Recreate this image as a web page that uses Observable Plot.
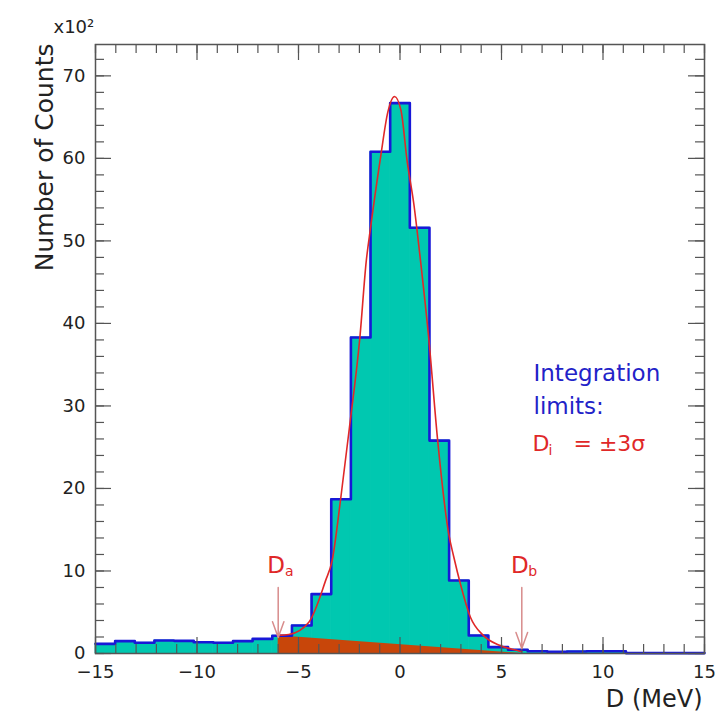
<!DOCTYPE html>
<html><head><meta charset="utf-8">
<script src="https://cdn.jsdelivr.net/npm/d3@7"></script>
<script src="https://cdn.jsdelivr.net/npm/@observablehq/plot@0.6"></script>
<style>body{margin:0;background:#fff}</style>
</head><body><div id="chart"></div>
<script>
// histogram binning: 31 bins over [-15, 15]
const binLo = -15, binHi = 15, nBins = 31;
// counts (x10^2) per bin, left to right
const counts = [1.17,1.5,1.3,1.57,1.53,1.37,1.3,1.5,1.77,2.15,3.4,7.2,18.7,38.3,60.8,66.7,51.6,25.8,8.84,2.18,0.77,0.45,0.28,0.2,0.25,0.27,0.27,0.05,0.05,0.05,0.05];
// fitted curve
const fitX = [-6,-5.48,-4.49,-3.67,-3.34,-2.93,-2.5,-1.98,-1.66,-1.45,-0.96,-0.6,-0.27,0.05,0.35,0.68,1.01,1.42,1.86,2.4,2.65,2.98,3.47,4.1,4.93,5.9,6.0];
const fitY = [2.2,2.3,3.8,8.8,11.3,18.6,27.2,38.2,47.6,51.6,60.1,65.6,67.5,65.8,59.7,54.5,47.6,38.1,25.7,14.5,11.7,8.4,4.4,2.2,0.97,0.28,0.2];
// background under the peak (linear)
const bgX = [-6, 6];
const bgY = [2.15, 0];
// integration limits
const limitX = [-6, 6];
const limitSub = ["a", "b"];
const arrowTopY = [8.0, 8.0];
const arrowTipY = [1.95, 0.6];
// axis ticks
const xTicks = [-15,-10,-5,0,5,10,15];
const yTicks = [0,10,20,30,40,50,60,70];

const W = 727, H = 713, mL = 95, mR = 23, mT = 44, mB = 60;
const fw = W - mL - mR, fh = H - mT - mB;
const edges = d3.range(nBins + 1).map(i => binLo + i * (binHi - binLo) / nBins);
const bins = counts.map((c, i) => ({x1: edges[i], x2: edges[i + 1], y: c}));
const outline = edges.map((e, i) => ({x: e, y: counts[Math.min(i, nBins - 1)]}));
const fit = fitX.map((x, i) => ({x, y: fitY[i]}));
const bg = bgX.map((x, i) => ({x, y: bgY[i]}));
const arrows = limitX.map((x, i) => ({x, y1: arrowTopY[i], y2: arrowTipY[i], sub: limitSub[i]}));
const xMinor = d3.range(-15, 16, 1);
const yMinor = d3.range(0, 74, 2);

const red = "#e02828", blue = "#2222c8", cyan = "#00c8b0";
const chart = Plot.plot({
  width: W, height: H,
  marginLeft: mL, marginRight: mR, marginTop: mT, marginBottom: mB,
  x: {domain: [-15, 15]},
  y: {domain: [0, 73.8]},
  style: {fontFamily: "DejaVu Sans, sans-serif", fontSize: "18px", color: "#222", background: "#fff"},
  marks: [
    Plot.rectY(bins, {x1: "x1", x2: "x2", y: "y", fill: cyan, stroke: cyan, strokeWidth: 0.8}),
    Plot.areaY(bg, {x: "x", y: "y", fill: "#c8460a"}),
    Plot.line(outline, {x: "x", y: "y", curve: "step-after", stroke: "#1818d8", strokeWidth: 2.6}),
    Plot.line(fit, {x: "x", y: "y", curve: "monotone-x", stroke: red, strokeWidth: 1.6}),
    // inward ticks
    Plot.tickX(xMinor, {x: d => d, insetTop: fh - 9, stroke: "#555", strokeWidth: 1.2}),
    Plot.tickX(xTicks, {x: d => d, insetTop: fh - 16, stroke: "#555", strokeWidth: 1.2}),
    Plot.tickX(xMinor, {x: d => d, insetBottom: fh - 9, stroke: "#555", strokeWidth: 1.2}),
    Plot.tickX(xTicks, {x: d => d, insetBottom: fh - 16, stroke: "#555", strokeWidth: 1.2}),
    Plot.tickY(yMinor, {y: d => d, insetRight: fw - 9, stroke: "#555", strokeWidth: 1.2}),
    Plot.tickY(yTicks, {y: d => d, insetRight: fw - 16, stroke: "#555", strokeWidth: 1.2}),
    Plot.tickY(yMinor, {y: d => d, insetLeft: fw - 9, stroke: "#555", strokeWidth: 1.2}),
    Plot.tickY(yTicks, {y: d => d, insetLeft: fw - 16, stroke: "#555", strokeWidth: 1.2}),
    Plot.frame({stroke: "#555", strokeWidth: 1.5}),
    Plot.axisX({ticks: xTicks, tickSize: 0, tickPadding: 12, label: null, fontSize: 18}),
    Plot.axisY({ticks: yTicks, tickSize: 0, tickPadding: 10, label: null, fontSize: 18}),
    // arrows and labels for integration limits
    Plot.arrow(arrows, {x1: "x", x2: "x", y1: "y1", y2: "y2", stroke: "#d88c8c", strokeWidth: 1.5, headLength: 17, headAngle: 40}),
    Plot.text(arrows, {x: "x", text: () => "D", frameAnchor: "bottom", lineAnchor: "bottom", dy: -81, dx: -2, fontSize: 23, fill: red}),
    Plot.text(arrows, {x: "x", text: "sub", frameAnchor: "bottom", lineAnchor: "bottom", dy: -78, dx: 11, fontSize: 14, fill: red}),
    // titles
    Plot.text(["Number of Counts"], {text: d => d, frameAnchor: "top-left", dx: -60, dy: -1, rotate: -90, textAnchor: "end", fontSize: 25, fill: "#222"}),
    Plot.text(["x10²"], {text: d => d, frameAnchor: "top-left", dx: -42, dy: -24, textAnchor: "start", fontSize: 18, fill: "#222"}),
    Plot.text(["D (MeV)"], {text: d => d, frameAnchor: "bottom-right", dx: -2, dy: 53, lineAnchor: "bottom", textAnchor: "end", fontSize: 24, fill: "#222"}),
    // integration note
    Plot.text(["Integration"], {text: d => d, frameAnchor: "top-left", dx: 438, dy: 336, lineAnchor: "bottom", textAnchor: "start", fontSize: 23, fill: blue}),
    Plot.text(["limits:"], {text: d => d, frameAnchor: "top-left", dx: 438, dy: 369, lineAnchor: "bottom", textAnchor: "start", fontSize: 23, fill: blue}),
    Plot.text(["D"], {text: d => d, frameAnchor: "top-left", dx: 437, dy: 406, lineAnchor: "bottom", textAnchor: "start", fontSize: 22, fill: red}),
    Plot.text(["i"], {text: d => d, frameAnchor: "top-left", dx: 453, dy: 410, lineAnchor: "bottom", textAnchor: "start", fontSize: 14, fill: red}),
    Plot.text(["= ±3σ"], {text: d => d, frameAnchor: "top-left", dx: 478, dy: 406, lineAnchor: "bottom", textAnchor: "start", fontSize: 22, fill: red})
  ]
});
document.getElementById("chart").appendChild(chart);
</script>
</body></html>
